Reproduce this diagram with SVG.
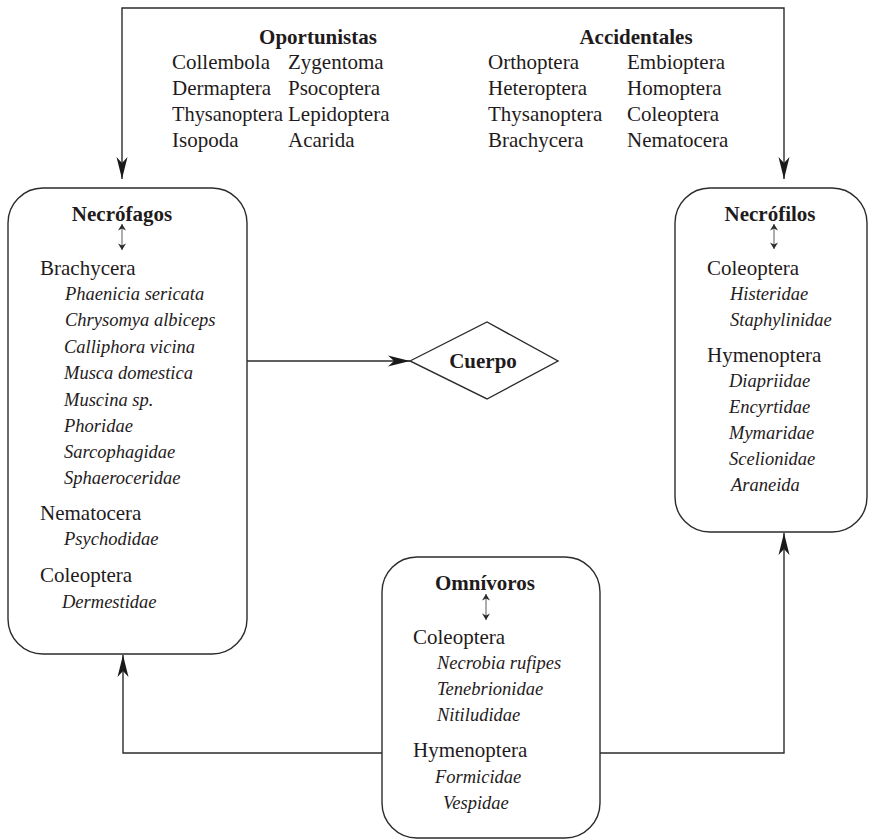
<svg xmlns="http://www.w3.org/2000/svg" width="869" height="840" viewBox="0 0 869 840">
<defs>
<marker id="ah" viewBox="-24 -7 25 14" refX="0" refY="0" markerWidth="25" markerHeight="14" markerUnits="userSpaceOnUse" orient="auto-start-reverse">
<path d="M0,0 L-22,-5.5 L-16,0 L-22,5.5 Z" fill="#1a1a1a"/>
</marker>
<marker id="sh" viewBox="-8 -5 9 10" refX="0" refY="0" markerWidth="9" markerHeight="10" markerUnits="userSpaceOnUse" orient="auto-start-reverse">
<path d="M0,0 L-6.5,-4 L-4.5,0 L-6.5,4 Z" fill="#2a2a2a"/>
</marker>
<style>
.box{fill:#fff;stroke:#2b2b2b;stroke-width:1.4}
.conn{fill:none;stroke:#2b2b2b;stroke-width:1.4}
.dbl{fill:none;stroke:#777;stroke-width:1.2}
text{font-family:"Liberation Serif","Times New Roman",serif;fill:#1f1b1c}
.h{font-weight:bold;font-size:21px;text-anchor:middle}
.r{font-size:21px}
.i{font-size:18.5px;font-style:italic}
</style>
</defs>
<rect width="869" height="840" fill="#fff"/>

<g id="connectors">
<path class="conn" d="M122,179 V8 H784 V179" marker-start="url(#ah)" marker-end="url(#ah)"/>
<path class="conn" d="M247,361 H410" marker-end="url(#ah)"/>
<path class="conn" d="M382,753 H123 V655" marker-end="url(#ah)"/>
<path class="conn" d="M600,753 H784 V533" marker-end="url(#ah)"/>
</g>

<g id="oportunistas">
<text class="h" x="318" y="44">Oportunistas</text>
<text class="r" x="172" y="69">Collembola</text>
<text class="r" x="288" y="69">Zygentoma</text>
<text class="r" x="172" y="95">Dermaptera</text>
<text class="r" x="288" y="95">Psocoptera</text>
<text class="r" x="172" y="121" textLength="111" lengthAdjust="spacingAndGlyphs">Thysanoptera</text>
<text class="r" x="288" y="121">Lepidoptera</text>
<text class="r" x="172" y="147">Isopoda</text>
<text class="r" x="288" y="147">Acarida</text>
</g>

<g id="accidentales">
<text class="h" x="636" y="44">Accidentales</text>
<text class="r" x="488" y="69">Orthoptera</text>
<text class="r" x="627" y="69">Embioptera</text>
<text class="r" x="488" y="95">Heteroptera</text>
<text class="r" x="627" y="95">Homoptera</text>
<text class="r" x="488" y="121">Thysanoptera</text>
<text class="r" x="627" y="121">Coleoptera</text>
<text class="r" x="488" y="147">Brachycera</text>
<text class="r" x="627" y="147">Nematocera</text>
</g>

<g id="necrofagos">
<rect class="box" x="8" y="188" width="239" height="466" rx="35" ry="35"/>
<text class="h" x="122" y="221">Necrófagos</text>
<path class="dbl" d="M122,224 V250" marker-start="url(#sh)" marker-end="url(#sh)"/>
<text class="r" x="40" y="275">Brachycera</text>
<text class="i" x="65" y="300">Phaenicia sericata</text>
<text class="i" x="65" y="326">Chrysomya albiceps</text>
<text class="i" x="64" y="353">Calliphora vicina</text>
<text class="i" x="64" y="379">Musca domestica</text>
<text class="i" x="64" y="406">Muscina sp.</text>
<text class="i" x="64" y="432">Phoridae</text>
<text class="i" x="64" y="458">Sarcophagidae</text>
<text class="i" x="64" y="484">Sphaeroceridae</text>
<text class="r" x="40" y="520">Nematocera</text>
<text class="i" x="64" y="545">Psychodidae</text>
<text class="r" x="40" y="582">Coleoptera</text>
<text class="i" x="62" y="608">Dermestidae</text>
</g>

<g id="cuerpo">
<polygon class="box" points="410,361 487,322 558,361 487,399"/>
<text class="h" x="483" y="368">Cuerpo</text>
</g>

<g id="necrofilos">
<rect class="box" x="675" y="188" width="192" height="344" rx="35" ry="35"/>
<text class="h" x="770" y="221">Necrófilos</text>
<path class="dbl" d="M774,224 V249" marker-start="url(#sh)" marker-end="url(#sh)"/>
<text class="r" x="707" y="275">Coleoptera</text>
<text class="i" x="730" y="300">Histeridae</text>
<text class="i" x="730" y="326">Staphylinidae</text>
<text class="r" x="707" y="362">Hymenoptera</text>
<text class="i" x="729" y="387">Diapriidae</text>
<text class="i" x="729" y="413">Encyrtidae</text>
<text class="i" x="729" y="439">Mymaridae</text>
<text class="i" x="729" y="465">Scelionidae</text>
<text class="i" x="731" y="491">Araneida</text>
</g>

<g id="omnivoros">
<rect class="box" x="382" y="557" width="218" height="281" rx="35" ry="35"/>
<text class="h" x="485" y="590">Omnívoros</text>
<path class="dbl" d="M486,594 V620" marker-start="url(#sh)" marker-end="url(#sh)"/>
<text class="r" x="413" y="644">Coleoptera</text>
<text class="i" x="437" y="669">Necrobia rufipes</text>
<text class="i" x="437" y="695">Tenebrionidae</text>
<text class="i" x="437" y="721">Nitiludidae</text>
<text class="r" x="413" y="757">Hymenoptera</text>
<text class="i" x="435" y="783">Formicidae</text>
<text class="i" x="443" y="809">Vespidae</text>
</g>
</svg>
